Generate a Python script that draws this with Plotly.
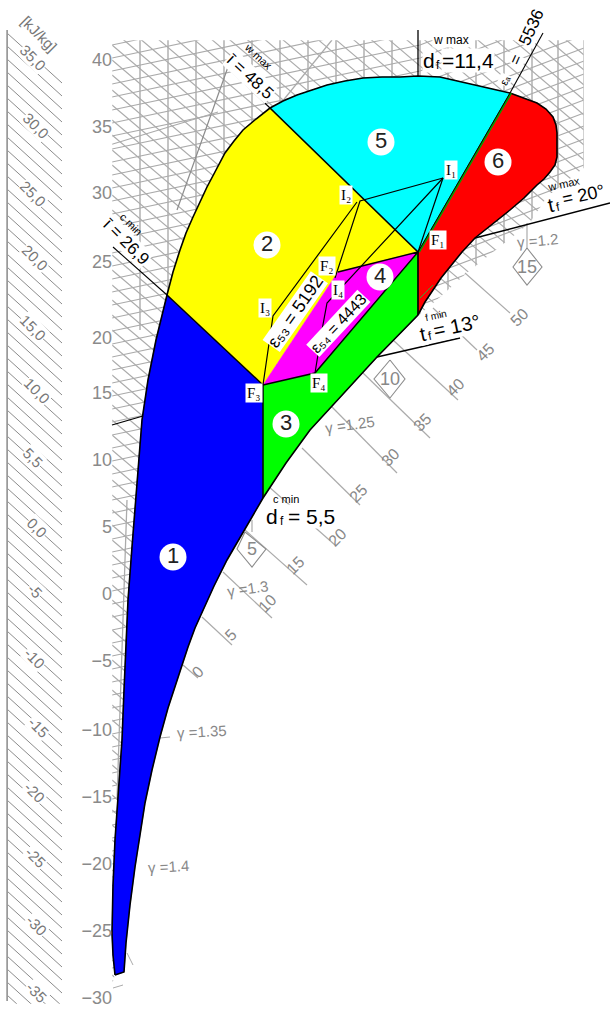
import plotly.graph_objects as go

# ---- chart boundary curves (x units, y position units) ----
left_edge_x = [115, 113, 112, 113, 115, 118, 122, 124, 125, 128, 132, 137, 142, 148, 156, 167]
left_edge_y = [975, 955, 933, 885, 840, 793, 740, 690, 667, 600, 547, 480, 420, 380, 340, 295]
dome2_x = [167, 173, 180, 186, 193, 200, 207, 216, 225, 234, 243, 256, 270]
dome2_y = [295, 272, 250, 233, 217, 202, 187, 170, 153, 141, 130, 119, 108]
dome5_x = [270, 283, 297, 312, 327, 345, 363, 382, 400, 418, 440, 453, 467, 488, 510]
dome5_y = [108, 101, 95, 90, 85, 81, 78, 77, 77, 76, 77, 80, 83, 88, 93]
dome6_x = [510, 524, 537, 546, 553, 556, 557, 557, 555, 550, 544, 537, 524, 510, 492, 475, 462, 450, 441, 433, 425, 418]
dome6_y = [93, 98, 103, 109, 117, 125, 133, 157, 165, 172, 179, 185, 198, 210, 224, 238, 252, 267, 278, 290, 302, 315]
lower3_x = [418, 398, 377, 344, 310, 286, 263]
lower3_y = [315, 336, 357, 393, 430, 463, 498]
lower1_x = [263, 245, 227, 214, 203, 195, 188, 177, 168, 160, 152, 145, 140, 135, 130, 126, 124, 115]
lower1_y = [498, 529, 560, 586, 610, 628, 647, 680, 708, 737, 770, 803, 835, 867, 905, 943, 972, 975]

F1 = (418, 252); F2 = (338, 272); F3 = (263, 385); F4 = (315, 373)
I1 = (443, 178); I2 = (360, 201); I3 = (273, 316)

# ---- axis labels ----
ytick_pos = [60, 127, 193, 262, 338, 393, 460, 527, 594, 661, 730, 797, 864, 931, 998]
ytick_txt = ["40", "35", "30", "25", "20", "15", "10", "5", "0", "−5", "−10", "−15", "−20", "−25", "−30"]

scale_txt = ["[kJ/kg]", "35,0", "30,0", "25,0", "20,0", "15,0", "10,0", "5,5", "0,0",
             "-5", "-10", "-15", "-20", "-25", "-30", "-35"]
scale_x = [39, 33, 36, 33, 35, 33, 37, 33, 37, 35, 35, 39, 35, 36, 37, 37]
scale_y = [33, 57, 125, 193, 257, 327, 390, 457, 527, 590, 658, 727, 792, 857, 925, 992]

slope_txt = ["50", "45", "40", "35", "30", "25", "20", "15", "10", "5", "0"]
slope_x = [519, 485, 455, 422, 390, 358, 337, 295, 267, 230, 197]
slope_y = [317, 352, 387, 422, 457, 493, 537, 565, 603, 635, 672]
slope_x0 = [465, 433, 393, 363, 332, 302, 268, 245, 223, 202, 183]
slope_y0 = [273, 308, 340, 373, 407, 448, 486, 530, 572, 617, 665]
slope_x1 = [510, 477, 458, 430, 397, 360, 335, 307, 272, 232, 198]
slope_y1 = [313, 350, 400, 438, 473, 505, 545, 585, 618, 645, 678]

gamma_txt = ["γ =1.2", "γ =1.25", "γ =1.3", "γ =1.35", "γ =1.4"]
gamma_x = [537, 350, 247, 202, 168]
gamma_y = [240, 424, 588, 731, 866]
gamma_ang = [-5, -8, -8, -3, -3]

region_txt = ["1", "2", "3", "4", "5", "6"]
region_x = [173, 267, 286, 380, 381, 498]
region_y = [557, 245, 424, 277, 142, 162]

point_txt = ["F₁", "F₂", "F₃", "F₄", "I₁", "I₂", "I₃", "I₄"]
point_x = [438, 327, 254, 319, 451, 346, 265, 338]
point_y = [240, 266, 393, 383, 170, 195, 308, 290]

# ---- grid families ----
grid_vx = [140, 168, 196, 224, 252, 280, 308, 336, 364, 392, 420, 448, 476, 504, 532, 558, 584]
GRAY = "#ababab"
GRAY_D = "#8c8c8c"

fig = go.Figure()


def line(xs, ys, color="black", width=1.3):
    fig.add_trace(go.Scatter(x=xs, y=ys, mode="lines", hoverinfo="skip",
                             line=dict(color=color, width=width)))


def poly(xs, ys, color):
    fig.add_trace(go.Scatter(x=xs, y=ys, mode="lines", fill="toself", fillcolor=color,
                             hoverinfo="skip", line=dict(color=color, width=0.5)))


# grid: rising family
gx, gy = [], []
for c in range(45, 1010, 13):
    gx += [112, 420, 584, None]
    gy += [c, c - 65, c - 65 - 62, None]
line(gx, gy, GRAY, 1.2)
# grid: falling family
gx, gy = [], []
for c in range(-420, 1010, 15):
    gx += [112, 584, None]
    gy += [c, c + 400, None]
line(gx, gy, GRAY, 1.1)
# grid: vertical family
gx, gy = [], []
for v in grid_vx:
    gx += [v, v, None]
    gy += [40, 330, None]
line(gx, gy, GRAY, 1.4)
line([127, 117], [500, 800], GRAY, 1.3)
line([228, 177], [67, 210], GRAY_D, 1.2)
line([332, 277], [40, 108], GRAY, 1.2)
line([103, 218], [147, 112], GRAY, 1.2)

# white masks trimming the grid to its outline
poly([0, 610, 610, 0, 0], [0, 0, 40, 40, 0], "white")
poly([0, 112, 112, 0, 0], [0, 0, 1016, 1016, 0], "white")
poly([584, 610, 610, 584, 584], [0, 0, 175, 175, 0], "white")
mask_x = [584, 547, 530, 467, 437, 417] + lower3_x[1:] + lower1_x[1:] + [112, 112, 610, 610, 584]
mask_y = [168, 197, 223, 273, 300, 317] + lower3_y[1:] + lower1_y[1:] + [985, 1016, 1016, 168, 168]
poly(mask_x, mask_y, "white")

# left enthalpy scale
hx, hy = [], []
for c in range(33, 1005, 13):
    hx += [7, 62, None]
    hy += [c, c + 50, None]
line(hx, hy, GRAY_D, 1.0)
line([7, 7], [30, 1001], "#9a9a9a", 2)
poly([0, 6, 6, 0, 0], [0, 0, 1016, 1016, 0], "white")
poly([62.5, 111, 111, 62.5, 62.5], [0, 0, 1016, 1016, 0], "white")
poly([0, 112, 112, 0, 0], [1004, 1004, 1016, 1016, 1004], "white")
line([127, 133], [953, 965], GRAY, 1)
line([113, 123], [988, 985], GRAY, 1)

# sloped tick lines
for a, b, c, d in zip(slope_x0, slope_y0, slope_x1, slope_y1):
    line([a, c], [b, d], GRAY, 1.2)
line([527, 527], [223, 248], GRAY, 1.2)
line([252, 252], [520, 532], GRAY, 1.2)
line([160, 170], [738, 737], GRAY, 1.2)

# diamonds
line([527, 542, 527, 513, 527], [248, 267, 285, 267, 248], GRAY_D, 1.1)
line([390, 405, 390, 374, 390], [360, 379, 398, 379, 360], GRAY_D, 1.1)
line([245, 266, 252, 237, 245], [532, 549, 567, 549, 532], GRAY_D, 1.1)

# coloured regions
poly(left_edge_x + [F3[0], 263] + lower1_x + [115],
     left_edge_y + [F3[1], 498] + lower1_y + [975], "#0000ff")
poly(dome2_x + [F1[0], F2[0], F3[0], 167], dome2_y + [F1[1], F2[1], F3[1], 295], "#ffff00")
poly([F3[0], F4[0], F1[0]] + lower3_x + [F3[0]], [F3[1], F4[1], F1[1]] + lower3_y + [F3[1]], "#00ff00")
poly([F3[0], F2[0], F1[0], F4[0], F3[0]], [F3[1], F2[1], F1[1], F4[1], F3[1]], "#ff00ff")
poly(dome5_x + [F1[0], 270], dome5_y + [F1[1], 108], "#00ffff")
poly(dome6_x + [F1[0], 510], dome6_y + [F1[1], 93], "#ff0000")

# outlines
line(left_edge_x + dome2_x + dome5_x + dome6_x + lower3_x + lower1_x,
     left_edge_y + dome2_y + dome5_y + dome6_y + lower3_y + lower1_y, "black", 1.6)
line([167, F3[0], 263], [295, F3[1], 498], "black", 1.5)
line([270, F1[0], 418], [108, F1[1], 315], "black", 1.7)
line([F3[0], F4[0], F1[0], F2[0]], [F3[1], F4[1], F1[1], F2[1]], "black", 1.4)
line([F1[0] + 1, 511], [F1[1], 93], "#00a000", 2.2)
line([F1[0], 510], [F1[1], 93], "black", 1)
line([420, 433], [298, 285], "#33aa33", 1)

# internal construction lines
line([F1[0], I1[0], I2[0], F2[0] - 3], [F1[1], I1[1], I2[1], 278], "black", 1.2)
line([I1[0], 348, 327, 322, F4[0]], [I1[1], 280, 303, 330, F4[1]], "black", 1.2)
line([357, I3[0], F3[0]], [202, I3[1], F3[1]], "black", 1.2)

# leaders
line([167, 113], [295, 247], "black", 1.1)
line([270, 227], [108, 67], "black", 1.1)
line([418, 418], [76, 30], "black", 1.3)
line([510, 543], [93, 33], "black", 1.1)
line([475, 610], [238, 203], "black", 1.5)
line([377, 460], [357, 338], "black", 1.5)
line([143, 112], [416, 425], "black", 1.3)

# numbered regions
fig.add_trace(go.Scatter(x=region_x, y=region_y, text=region_txt, mode="markers+text",
                         textposition="middle center", hoverinfo="skip",
                         marker=dict(color="white", size=27, symbol="circle"),
                         textfont=dict(family="Liberation Sans", size=22, color="#222222")))


def note(text, x, y, size=13, angle=0, color="black", bg="white", family="Liberation Sans", pad=0):
    fig.add_annotation(x=x, y=y, text=text, showarrow=False, textangle=angle,
                       font=dict(family=family, size=size, color=color),
                       bgcolor=bg, borderpad=pad, xanchor="center", yanchor="middle")


CLEAR = "rgba(255,255,255,0)"
for t, x, y in zip(scale_txt, scale_x, scale_y):
    note(t, x, y, 15, 45, "#777777")
for t, x, y in zip(slope_txt, slope_x, slope_y):
    note(t, x, y, 16, -45, "#888888", bg=CLEAR)
for t, x, y, a in zip(gamma_txt, gamma_x, gamma_y, gamma_ang):
    note(t, x, y, 15, a, "#888888", bg=CLEAR)
note("15", 527, 267, 18, 0, "#888888", bg=CLEAR)
note("10", 390, 379, 18, 0, "#888888", bg=CLEAR)
note("5", 252, 549, 18, 0, "#888888", bg=CLEAR)

for t, x, y in zip(point_txt, point_x, point_y):
    note(t, x, y, 15, 0, "black", family="Liberation Serif", pad=1)

note("ε₅₃ = 5192", 295, 312, 18, -55)
note("ε₅₄ = 4443", 338, 323, 16, -47)
note("ī = 26,9", 126, 241, 17, 45)
note("c min", 131, 224, 11, 45, bg=CLEAR)
note("ī = 48,5", 250, 76, 17, 43)
note("w max", 258, 56, 11, 43, bg=CLEAR)

note("w max", 451, 40, 12)
note("=11,4", 468, 60, 21)
note("d", 429, 60, 21)
note("f", 438, 65, 12, bg=CLEAR)

note("5536", 531, 27, 17, -66)
note("=", 515, 60, 16, -66)
note("εₐ", 505, 80, 11, -66)

note("= 20°", 583, 195, 18, -12)
note("t", 551, 205, 20, -12)
note("f", 558, 207, 12, -12, bg=CLEAR)
note("w max", 563, 184, 11, -12, bg=CLEAR)

note("= 13°", 456, 326, 20, -12)
note("t", 423, 334, 20, -12)
note("f", 430, 336, 12, -12, bg=CLEAR)
note("f min", 436, 315, 10, -12, bg=CLEAR)

note("= 5,5", 311, 516, 21)
note("d", 272, 516, 21)
note("f", 282, 521, 12, bg=CLEAR)
note("c min", 286, 499, 11, 0, bg=CLEAR)

fig.update_layout(
    width=610, height=1016, showlegend=False, autosize=False,
    margin=dict(l=0, r=0, t=0, b=0), plot_bgcolor="white", paper_bgcolor="white",
    xaxis=dict(range=[0, 610], visible=False, domain=[0, 1], fixedrange=True),
    yaxis=dict(range=[1016, 0], anchor="free", position=112 / 610, showgrid=False, zeroline=False,
               showline=False, ticks="", tickmode="array", tickvals=ytick_pos, ticktext=ytick_txt,
               tickfont=dict(family="Liberation Sans", size=18, color="#8a8a8a"), fixedrange=True),
)
fig.write_html("out.html", config=dict(displayModeBar=False),
               post_script="document.body.style.margin='0';document.documentElement.style.overflow='hidden';")
